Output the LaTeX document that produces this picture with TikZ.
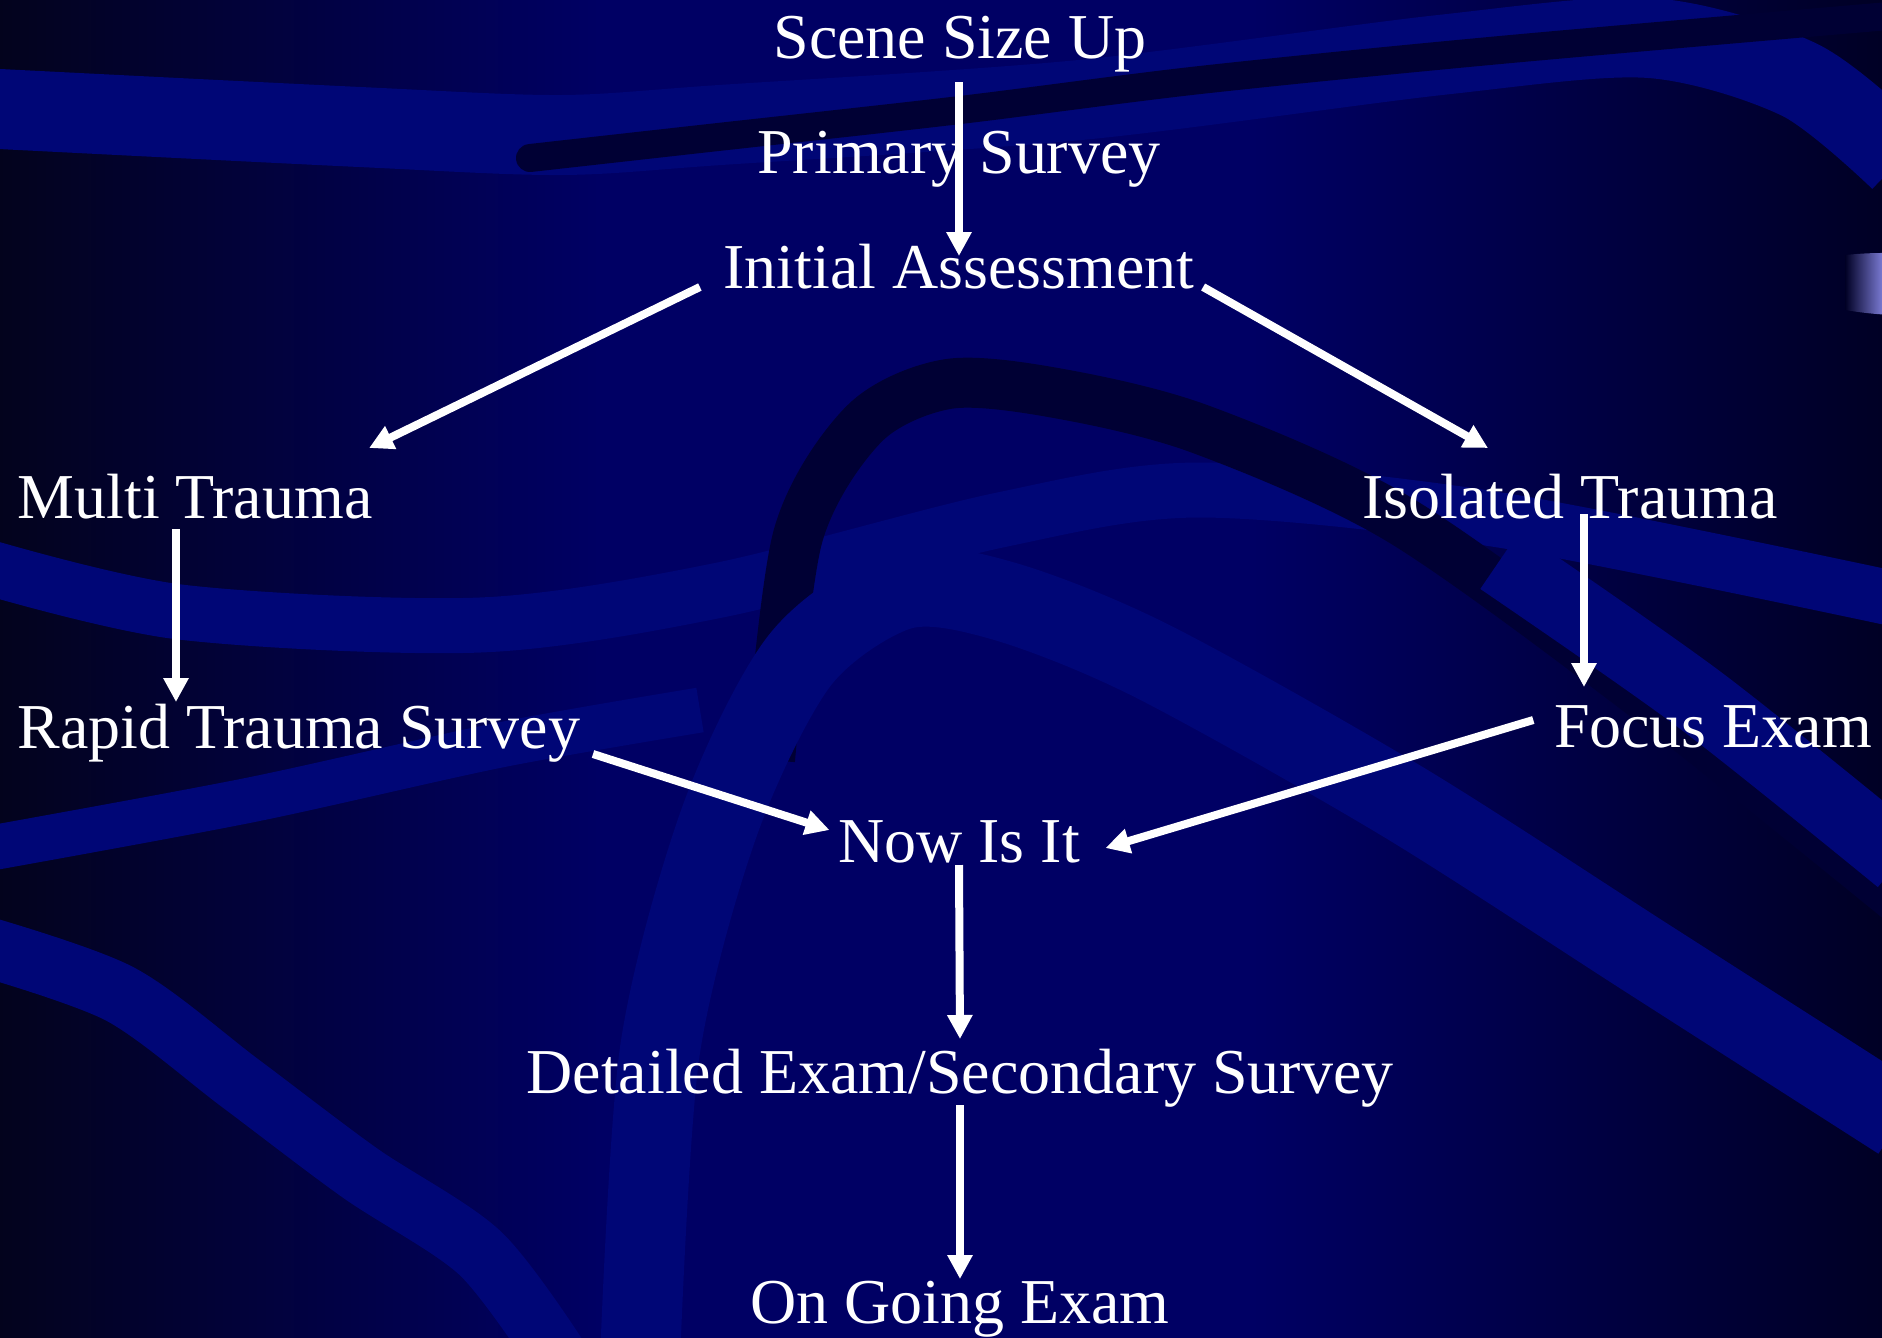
\documentclass[tikz,border=0pt]{standalone}
\usepackage{fontspec}
\setmainfont{Liberation Serif}
\usetikzlibrary{arrows.meta}
\definecolor{slidenavy}{RGB}{0,0,100}
\definecolor{slidedark}{RGB}{3,3,28}
\definecolor{slideedge}{RGB}{0,0,36}
\definecolor{bandlight}{RGB}{0,6,118}
\definecolor{banddark}{RGB}{0,0,52}
\definecolor{tablav}{RGB}{153,153,255}
\tikzset{%
    stage/.style={text=white, inner sep=0pt, anchor=base,
      font=\fontsize{18.2}{22}\selectfont},
    flow/.style={white, line width=0.8mm,
      -{Triangle[length=2.4mm,width=2.4mm]}},
    wave/.style={draw=bandlight, line width=#1},
    wave/.default=6mm,
}
\begin{document}
\begin{tikzpicture}[x=0.1mm, y=-0.1mm]
 \useasboundingbox (0,0) rectangle (1882,1337);
 % background
 \begin{scope}
 \clip (-10,-10) rectangle (1892,1347);
 \fill[slidenavy] (-10,-10) rectangle (1892,1347);
 \shade[left color=slidedark, right color=slidenavy] (-10,-10) rectangle (600,1347);
 \shade[left color=slidenavy, right color=slideedge] (1250,-10) rectangle (1892,1347);
 \draw[wave=8mm] plot[smooth] coordinates {(-20,108) (360,127) (560,135) (720,125) (1080,100) (1440,55) (1650,38) (1800,80) (1900,160)};
 \draw[wave=2.8mm, draw=banddark, line cap=round] plot[smooth] coordinates {(530,158) (700,139) (960,110) (1200,80) (1500,50) (1900,15)};
 \draw[wave=5.5mm] plot[smooth] coordinates {(-20,565) (180,612) (480,625) (720,590) (1000,520) (1200,490) (1500,520) (1900,600)};
 \draw[wave=4.5mm] plot[smooth] coordinates {(-20,850) (250,800) (500,745) (700,710)};
 \draw[wave=5mm, draw=banddark] plot[smooth] coordinates {(770,760) (798,536) (864,424) (948,384) (1056,393) (1200,429) (1400,520) (1650,700) (1900,900)};
 \draw[wave=8mm] plot[smooth] coordinates {(640,1360) (660,1050) (720,820) (800,660) (900,590) (1000,600) (1150,660) (1400,800) (1650,960) (1900,1120)};
 \draw[wave=7mm] plot[smooth] coordinates {(1500,560) (1700,700) (1900,860)};
 \draw[wave] plot[smooth] coordinates {(-20,945) (120,994) (240,1083) (360,1173) (480,1253) (560,1360)};
 \shade[left color=slideedge, right color=tablav]
   (1845,255) to[bend left=3] (1892,253) -- (1892,315) to[bend left=3] (1845,310) -- cycle;
 \end{scope}
 % stages
 \node[stage] (scene) at (960,58) {Scene Size Up};
 \node[stage] (primary) at (959,173) {Primary Survey};
 \node[stage] (initial) at (959,288) {Initial Assessment};
 \node[stage] (multi) at (195,518) {Multi Trauma};
 \node[stage] (isolated) at (1570,518) {Isolated Trauma};
 \node[stage] (rapid) at (299,748) {Rapid Trauma Survey};
 \node[stage] (focus) at (1713,747) {Focus Exam};
 \node[stage] (now) at (959,862) {Now Is It};
 \node[stage] (detailed) at (960,1093) {Detailed Exam/Secondary Survey};
 \node[stage] (ongoing) at (960,1323) {On Going Exam};
 % arrows
 \draw[flow] ([shift={(-1,24)}]scene.base) -- ([shift={(0,-32)}]initial.base);
 \draw[flow] ([shift={(-23,-1)}]initial.base west) -- ([shift={(-4,-70)}]multi.base east);
 \draw[flow] ([shift={(8,-1)}]initial.base east) -- ([shift={(-82,-70)}]isolated.base);
 \draw[flow] ([shift={(-19,11)}]multi.base) -- ([shift={(-123,-46)}]rapid.base);
 \draw[flow] ([shift={(14,-4)}]isolated.base) -- ([shift={(-129,-60)}]focus.base);
 \draw[flow] ([shift={(12,6)}]rapid.base east) -- ([shift={(-8,-32)}]now.base west);
 \draw[flow] ([shift={(-20,-27)}]focus.base west) -- ([shift={(25,-14)}]now.base east);
 \draw[flow] ([shift={(0,3)}]now.base) -- ([shift={(0,-54)}]detailed.base);
 \draw[flow] ([shift={(0,12)}]detailed.base) -- ([shift={(0,-44)}]ongoing.base);
\end{tikzpicture}
\end{document}
